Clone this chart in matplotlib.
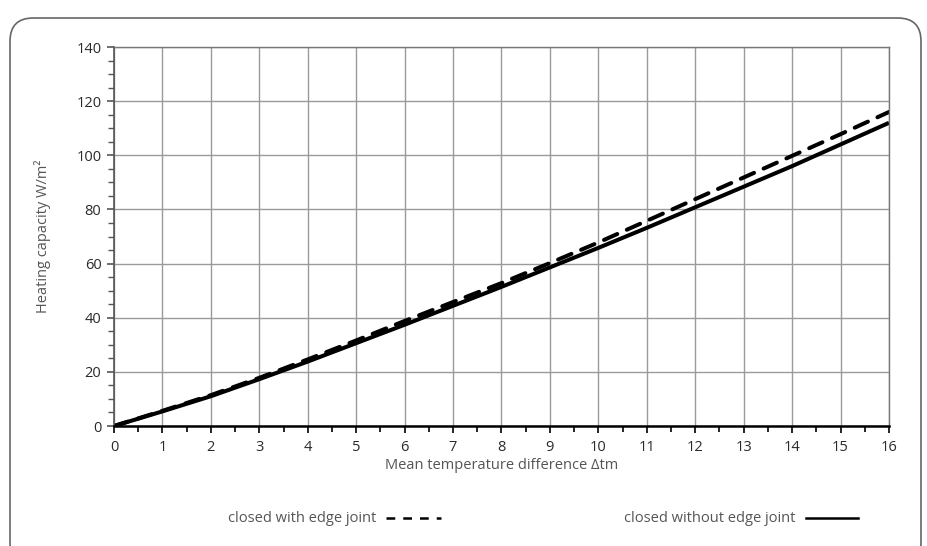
import matplotlib
matplotlib.use("Agg")
import matplotlib.pyplot as plt
from matplotlib.patches import FancyBboxPatch
from matplotlib.lines import Line2D
from matplotlib.ticker import MultipleLocator

plt.rcParams['font.family'] = ['Open Sans', 'DejaVu Sans']

# Heating capacity vs. mean temperature difference
delta_tm = [0, 1, 2, 3, 4, 5, 6, 7, 8, 9, 10, 11, 12, 13, 14, 15, 16]
with_edge_joint = [0, 5.6, 11.4, 17.8, 24.6, 31.6, 38.8, 45.8, 52.8, 60.2, 67.8, 75.8, 83.8, 91.8, 99.8, 107.8, 116.0]
without_edge_joint = [0, 5.4, 11.0, 17.3, 23.8, 30.6, 37.4, 44.4, 51.4, 58.6, 65.8, 73.2, 80.8, 88.4, 96.0, 104.0, 112.0]

x_ticks = list(range(0, 17))
y_ticks = list(range(0, 141, 20))

text_color = '#555555'
tick_text_color = '#2a2a2a'
grid_color = '#9a9a9a'

fig = plt.figure(figsize=(9.28, 5.46), dpi=100)
ax = fig.add_axes([114 / 928, 1 - 426 / 546, (889 - 114) / 928, (426 - 47) / 546])

ax.plot(delta_tm, without_edge_joint, color='black', lw=2.9, solid_capstyle='butt')
ax.plot(delta_tm, with_edge_joint, color='black', lw=2.9, dashes=(3.6, 2.6), dash_capstyle='round')

ax.set_xlim(0, 16)
ax.set_ylim(0, 140)
ax.set_xticks(x_ticks)
ax.set_yticks(y_ticks)
ax.xaxis.set_minor_locator(MultipleLocator(0.5))
ax.yaxis.set_minor_locator(MultipleLocator(5))
ax.grid(True, which='major', color=grid_color, lw=1.0)
ax.set_axisbelow(True)

ax.tick_params(axis='both', which='major', labelsize=10.5, labelcolor=tick_text_color,
               width=1.2, length=5, direction='out', pad=4)
ax.tick_params(axis='x', which='major', color='black', pad=5)
ax.tick_params(axis='y', which='major', color='#555555')
ax.tick_params(axis='x', which='minor', direction='out', length=4, width=1.2, color='black')
ax.tick_params(axis='y', which='minor', direction='out', length=4, width=1.0, color='#555555')

for side in ('top', 'right'):
    ax.spines[side].set_color('#777777')
    ax.spines[side].set_linewidth(1.0)
ax.spines['bottom'].set_color('black')
ax.spines['bottom'].set_linewidth(1.8)
ax.spines['left'].set_color('#555555')
ax.spines['left'].set_linewidth(1.2)

ax.set_xlabel('Mean temperature difference Δtm', fontsize=10.5, color=text_color, labelpad=2)
ax.set_ylabel('Heating capacity W/m²', fontsize=10.5, color=text_color, labelpad=18)

# Legend entries laid out in one row beneath the axis
fig.text(376 / 928, 1 - 518 / 546, 'closed with edge joint', ha='right', va='center',
         fontsize=10.5, color=text_color)
fig.add_artist(Line2D([386 / 928, 441 / 928], [1 - 518 / 546] * 2, color='black',
                      lw=1.8, dashes=(3.5, 3.2), transform=fig.transFigure))
fig.text(795 / 928, 1 - 518 / 546, 'closed without edge joint', ha='right', va='center',
         fontsize=10.5, color=text_color)
fig.add_artist(Line2D([806 / 928, 858 / 928], [1 - 518 / 546] * 2, color='black',
                      lw=1.8, transform=fig.transFigure))

# Rounded outer frame
frame = FancyBboxPatch((10 / 928, -20 / 546), (921 - 10) / 928, (538 - 10 + 20) / 546,
                       boxstyle='round,pad=0,rounding_size=0.025', transform=fig.transFigure,
                       facecolor='none', edgecolor='#666666', lw=1.2,
                       mutation_aspect=928 / 546)
fig.add_artist(frame)

fig.savefig('out.png', dpi=100)
